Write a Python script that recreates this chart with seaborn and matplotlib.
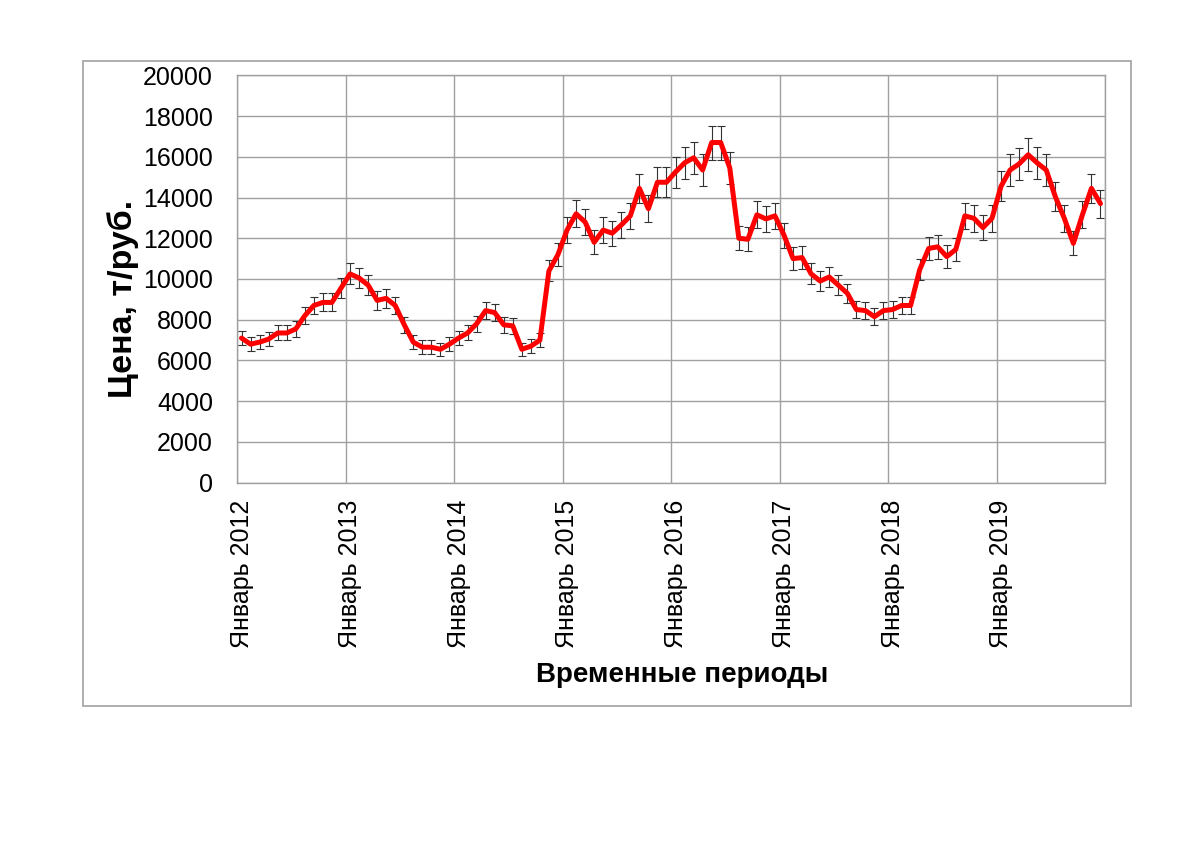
import numpy as np
import pandas as pd
import matplotlib
matplotlib.use("Agg")
import matplotlib.pyplot as plt
import seaborn as sns
from matplotlib.patches import Rectangle

# ---- data ----
prices = [
    7100, 6800, 6900, 7050, 7350, 7350, 7550, 8200, 8700, 8850, 8850, 9550,
    10250, 10050, 9700, 8950, 9050, 8700, 7750, 6900, 6650, 6650, 6550, 6800,
    7100, 7350, 7800, 8450, 8350, 7750, 7700, 6550, 6700, 7000, 10400, 11200,
    12400, 13200, 12800, 11800, 12400, 12250, 12650, 13100, 14450, 13450, 14750, 14750,
    15250, 15700, 15950, 15350, 16700, 16700, 15450, 12000, 11950, 13150, 12950, 13100,
    12150, 11000, 11050, 10250, 9900, 10100, 9700, 9300, 8500, 8450, 8150, 8450,
    8500, 8700, 8700, 10450, 11500, 11580, 11100, 11450, 13100, 12980, 12520, 12980,
    14550, 15350, 15650, 16100, 15700, 15350, 14050, 12980, 11750, 13150, 14450, 13700,
]
error_percent = 5  # error bars: percentage of value
year_labels = ["Январь 2012", "Январь 2013", "Январь 2014", "Январь 2015",
               "Январь 2016", "Январь 2017", "Январь 2018", "Январь 2019"]
y_ticks = list(range(0, 20001, 2000))
x_title = "Временные периоды"
y_title = "Цена, т/руб."

df = pd.DataFrame({"month": np.arange(len(prices)), "price": prices})
df["err"] = df["price"] * error_percent / 100.0

sns.set_theme(style="white")
plt.rcParams["font.family"] = ["Liberation Sans", "DejaVu Sans"]

fig = plt.figure(figsize=(12, 8.5), dpi=100)
ax = fig.add_axes([237/1200, 1-482.7/850, (1105-237)/1200, (482.7-75.3)/850])

grid_col = "#A0A0A0"

ax.errorbar(df["month"], df["price"], yerr=df["err"], fmt="none",
            ecolor="#333333", elinewidth=0.8, capsize=3, capthick=0.8, zorder=3)
sns.lineplot(data=df, x="month", y="price", color="#FF0000", linewidth=3.6,
             ax=ax, zorder=4, legend=False)

n = len(prices)
ax.set_xlim(-0.5, n - 0.5)
ax.set_ylim(0, 20000)
ax.set_yticks(y_ticks)
ax.set_yticklabels([str(v) for v in y_ticks])

ax.set_xticks([12*k - 0.5 for k in range(n // 12 + 1)])
ax.set_xticklabels([])
ax.set_xticks([12*k for k in range(len(year_labels))], minor=True)
ax.set_xticklabels(year_labels, minor=True, rotation=90, fontsize=18)

ax.tick_params(axis="x", which="major", length=5.8, width=1, color=grid_col, direction="out")
ax.tick_params(axis="x", which="minor", length=0, pad=12.5, labelsize=18, labelcolor="black")
ax.tick_params(axis="y", which="major", length=5.8, width=1, color=grid_col,
               direction="out", pad=11.5, labelsize=18, labelcolor="black")

ax.grid(True, which="major", axis="both", color=grid_col, linewidth=1.0)
for s in ax.spines.values():
    s.set_visible(True)
    s.set_color(grid_col)
    s.set_linewidth(1.0)

ax.set_xlabel(x_title, fontsize=20, fontweight="bold", color="black")
ax.xaxis.label.set_va("center")
ax.xaxis.set_label_coords(0.513, -0.472)
ax.set_ylabel(y_title, fontsize=24.5, fontweight="bold", color="black")
ax.yaxis.label.set_va("center")
ax.yaxis.set_label_coords(-0.131, 0.45)

fig.patches.append(Rectangle((83/1200, 1-706/850), (1131-83)/1200, (706-61)/850,
                             transform=fig.transFigure, fill=False,
                             edgecolor="#A8A8A8", linewidth=1.3))

fig.savefig("out.png", dpi=100, facecolor="white")
